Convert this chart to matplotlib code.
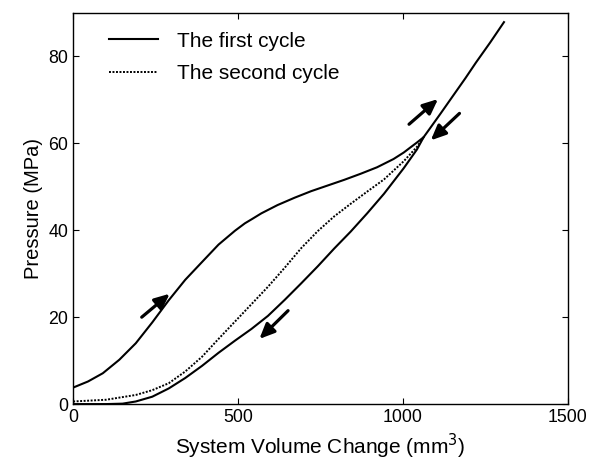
import matplotlib
matplotlib.use("Agg")
import matplotlib.pyplot as plt

plt.rcParams['font.family'] = ['Liberation Sans', 'DejaVu Sans']

# first cycle, loading branch
load1_v = [0, 45, 90, 140, 190, 240, 290, 340, 391, 441, 491, 521, 543, 571, 620, 672,
           722, 772, 822, 872, 922, 972, 1003, 1022, 1043, 1063, 1082, 1115, 1152, 1190,
           1222, 1265, 1307]
load1_p = [3.8, 5.2, 7.1, 10.2, 14.0, 18.8, 23.9, 28.6, 32.7, 36.7, 39.9, 41.6, 42.6, 43.9,
           45.8, 47.5, 49.0, 50.3, 51.6, 53.0, 54.5, 56.4, 57.9, 59.0, 60.2, 61.4, 63.4,
           66.9, 70.9, 75.0, 78.6, 83.2, 87.9]

# first cycle, unloading branch
unload1_v = [0, 100, 150, 190, 240, 290, 340, 391, 441, 491, 541, 591, 642, 692, 742,
             792, 842, 892, 943, 1003, 1043, 1063]
unload1_p = [0, 0, 0.1, 0.6, 1.7, 3.6, 6.0, 8.8, 11.8, 14.6, 17.3, 20.3, 24.0, 27.8, 31.7,
             35.8, 39.7, 43.9, 48.4, 54.3, 58.6, 61.4]

# second cycle
cyc2_v = [0, 100, 190, 240, 290, 340, 391, 441, 491, 541, 591, 642, 692, 742, 792, 842,
          892, 943, 1003, 1043, 1063]
cyc2_p = [0.6, 1.0, 2.1, 3.2, 4.8, 7.5, 10.9, 15.0, 19.0, 23.0, 27.0, 31.4, 35.9, 39.8,
          43.2, 46.1, 48.9, 51.7, 55.9, 59.2, 61.4]

# direction arrows: (tail v, tail p, head v, head p)
arrows = [
    (208, 20.0, 293, 25.4),
    (652, 21.5, 565, 15.0),
    (1019, 64.4, 1107, 70.2),
    (1172, 66.9, 1085, 60.7),
]

fig = plt.figure(figsize=(5.9, 4.65), dpi=100)
ax = fig.add_axes([0.124, 0.131, 0.838, 0.841])

ax.plot(load1_v, load1_p, 'k-', lw=1.5, label='The first cycle')
ax.plot(unload1_v, unload1_p, 'k-', lw=1.5)
ax.plot(cyc2_v, cyc2_p, color='k', ls=(0, (1, 0.8)), lw=1.4, label='The second cycle')

for tv, tp, hv, hp in arrows:
    ax.annotate('', xy=(hv, hp), xytext=(tv, tp),
                arrowprops=dict(arrowstyle='-|>,head_length=0.9,head_width=0.4',
                                color='k', lw=2.3, shrinkA=0, shrinkB=0))

ax.set_xlim(0, 1500)
ax.set_ylim(0, 90)
ax.set_xticks([0, 500, 1000, 1500])
ax.set_yticks([0, 20, 40, 60, 80])
ax.tick_params(direction='in', top=True, right=True, length=4, labelsize=12.8)
for s in ax.spines.values():
    s.set_linewidth(1.0)
ax.set_xlabel('System Volume Change (mm$^3$)', fontsize=15)
ax.set_ylabel('Pressure (MPa)', fontsize=14.5)
ax.legend(loc='upper left', bbox_to_anchor=(0.056, 0.974), frameon=False, fontsize=15,
          handlelength=2.35, handletextpad=0.9, borderaxespad=0, labelspacing=0.65)

fig.savefig('out.png', dpi=100)
